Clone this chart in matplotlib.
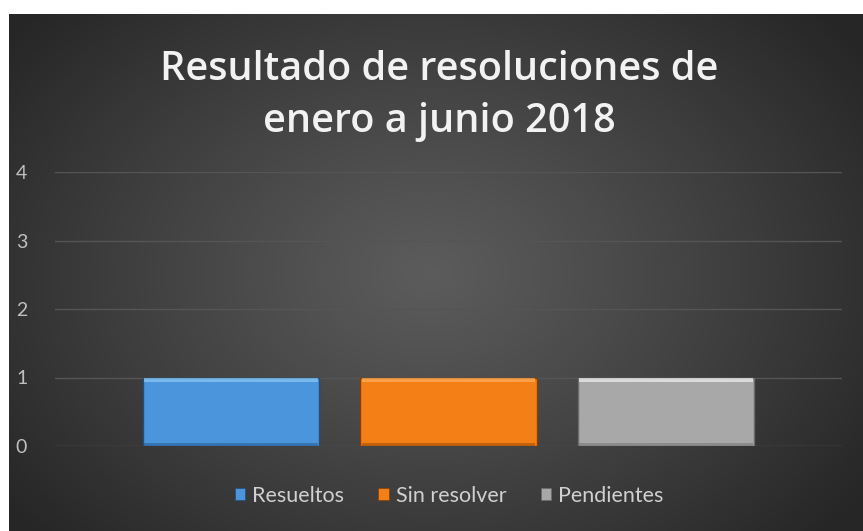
import numpy as np
import matplotlib
matplotlib.use("Agg")
import matplotlib.pyplot as plt
from matplotlib.patches import Patch

plt.rcParams["font.family"] = ["Lato", "DejaVu Sans"]

# datos del grafico
series = ["Resueltos", "Sin resolver", "Pendientes"]
valores = [1, 1, 1]
colores = ["#4a95dc", "#f57f17", "#a8a8a8"]
brillo = ["#8ccaf5", "#ffb060", "#f2f2f2"]
bordes = ["#1f4f80", "#8a3f00", "#6a6a6a"]
yticks = [0, 1, 2, 3, 4]
titulo = "Resultado de resoluciones de\nenero a junio 2018"

W, H = 863, 531
fig = plt.figure(figsize=(W / 100, H / 100), dpi=100)
fig.patch.set_facecolor("white")

# fondo oscuro con degradado radial
bg = fig.add_axes([9 / W, 0, 1 - 9 / W, 1 - 14 / H])
ny, nx = 260, 430
yy, xx = np.mgrid[0:ny, 0:nx]
cx, cy = nx * 0.49, ny * 0.50
r = np.sqrt(((xx - cx) / (nx * 0.62)) ** 2 + ((yy - cy) / (ny * 0.75)) ** 2)
r = np.clip(r, 0, 1)
c0, c1 = 0.36, 0.15
g = c0 + (c1 - c0) * r ** 1.1
img = np.dstack([g, g, g])
bg.imshow(img, aspect="auto", extent=[0, 1, 0, 1], interpolation="bilinear")
bg.set_axis_off()

ax = fig.add_axes([55 / W, 1 - 446 / H, (842 - 55) / W, (446 - 172) / H])
ax.set_facecolor("none")
x = np.arange(len(series))
ancho = 0.81
ax.bar(x, valores, width=ancho, color=colores, edgecolor=bordes, linewidth=1.0, zorder=3)
# bisel superior e inferior
ax.bar(x, [0.06] * len(x), bottom=[v - 0.06 for v in valores], width=ancho * 0.985,
       color=brillo, alpha=0.7, linewidth=0, zorder=4)
ax.bar(x, [0.05] * len(x), bottom=[0.0] * len(x), width=ancho * 0.985,
       color=bordes, alpha=0.45, linewidth=0, zorder=4)

ax.set_xlim(-0.809, 2.809)
ax.set_ylim(0, 4)
ax.set_yticks(yticks)
ax.set_xticks([])
ax.grid(axis="y", color="#555555", linewidth=1.0, zorder=0)
for s in ax.spines.values():
    s.set_visible(False)
ax.tick_params(axis="y", length=0, pad=20, labelsize=14, labelcolor="#bfbfbf")

fig.text(0.509, 1 - 96 / H, titulo, ha="center", va="center", color="#f2f2f2",
         fontsize=28.5, fontfamily="Open Sans", fontweight="semibold", linespacing=1.4)

handles = [Patch(facecolor=c, edgecolor=b, linewidth=0.5) for c, b in zip(colores, bordes)]
leg = fig.legend(handles, series, loc="center", bbox_to_anchor=(449 / W, 1 - 496 / H), ncol=3,
                 frameon=False, handlelength=0.5, handleheight=0.5, handletextpad=0.3,
                 columnspacing=1.6, prop={"size": 15.5})
for t in leg.get_texts():
    t.set_color("#d0d0d0")

fig.savefig("out.png", dpi=100, facecolor=fig.get_facecolor())
